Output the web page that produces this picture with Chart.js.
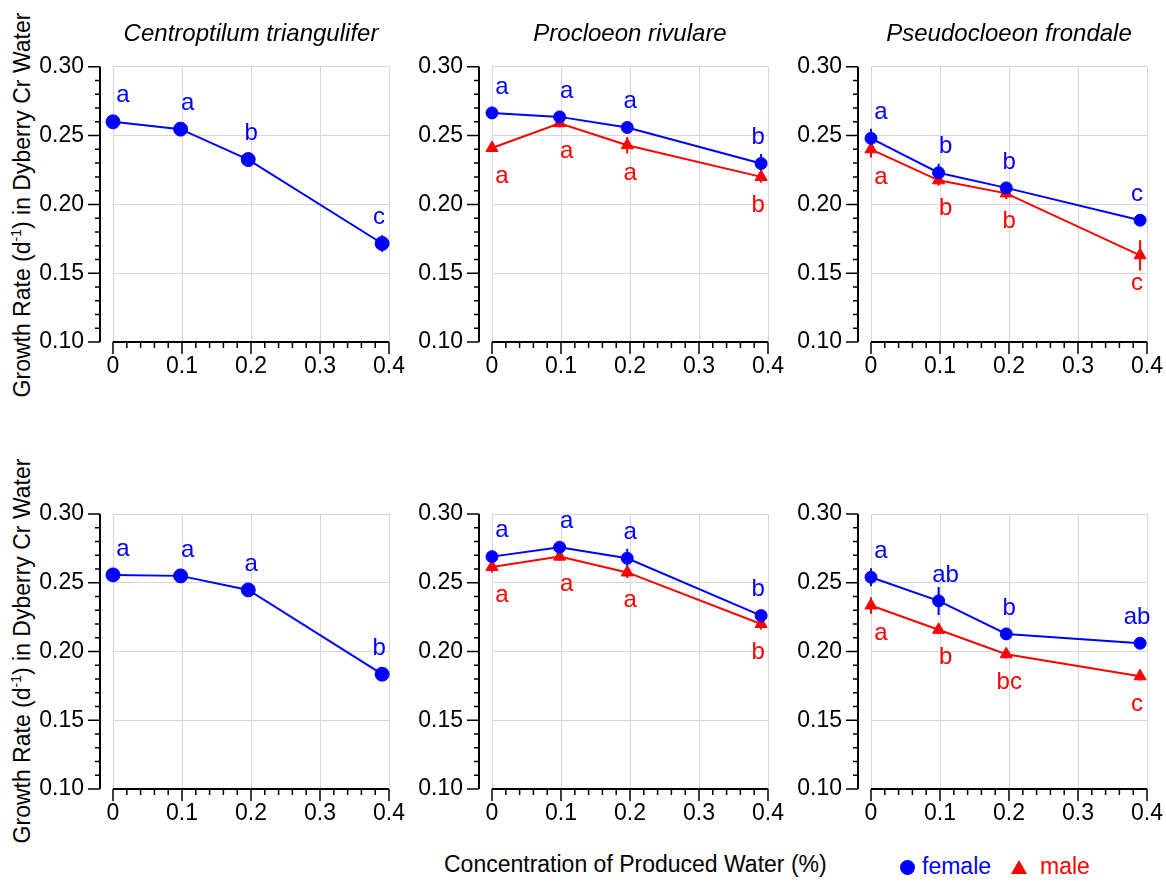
<!DOCTYPE html>
<html>
<head>
<meta charset="utf-8">
<script src="https://cdn.jsdelivr.net/npm/chart.js@4.4.1/dist/chart.umd.min.js"></script>
<style>
  html, body { margin: 0; padding: 0; background: #fff; overflow: hidden; }
  #wrap { position: relative; width: 1166px; height: 882px; overflow: hidden; font-family: 'Liberation Sans', Arial, Helvetica, sans-serif; }
  #wrap canvas { position: absolute; }
  .ytitle { position: absolute; left: 22px; font-size: 23px; line-height: 1; white-space: nowrap; color: #000;
            transform: translate(-50%, -50%) rotate(-90deg); }
  .ytitle sup { font-size: 14px; vertical-align: 9px; line-height: 0; }
  .txt { position: absolute; font-size: 23px; line-height: 1; white-space: nowrap; }
</style>
</head>
<body>
<div id="wrap">
  <div class="ytitle" style="top:205px">Growth Rate (d<sup>-1</sup>) in Dyberry Cr Water</div>
  <div class="ytitle" style="top:651px">Growth Rate (d<sup>-1</sup>) in Dyberry Cr Water</div>
  <div class="txt" style="left:444px; top:853px; color:#000">Concentration of Produced Water (%)</div>
  <div style="position:absolute; left:900px; top:860px; width:15px; height:15px; border-radius:50%; background:#0000ff"></div>
  <div class="txt" style="left:922px; top:855px; color:#0000ff">female</div>
  <div style="position:absolute; left:1011px; top:860px; width:0; height:0; border-left:8px solid transparent; border-right:8px solid transparent; border-bottom:14px solid #ff0000"></div>
  <div class="txt" style="left:1040px; top:855px; color:#ff0000">male</div>
</div>
<script>
// concentration of produced water (%), same for every panel
var conc = [0, 0.098, 0.196, 0.39];

var species = ['Centroptilum triangulifer', 'Procloeon rivulare', 'Pseudocloeon frondale'];

// --- top row ---
var ctFemale1 = [0.260, 0.2547, 0.2326, 0.1716];
var ctFemaleErr1 = [0.005, 0.003, 0.003, 0.006];
var ctFemaleLet1 = ['a', 'a', 'b', 'c'];

var prFemale1 = [0.2665, 0.2636, 0.2559, 0.2297];
var prFemaleErr1 = [0.004, 0.002, 0.003, 0.007];
var prFemaleLet1 = ['a', 'a', 'a', 'b'];
var prMale1 = [0.241, 0.259, 0.243, 0.220];
var prMaleErr1 = [0.003, 0.003, 0.006, 0.004];
var prMaleLet1 = ['a', 'a', 'a', 'b'];

var pfFemale1 = [0.248, 0.223, 0.212, 0.1885];
var pfFemaleErr1 = [0.007, 0.0065, 0.003, 0.003];
var pfFemaleLet1 = ['a', 'b', 'b', 'c'];
var pfMale1 = [0.240, 0.2175, 0.208, 0.163];
var pfMaleErr1 = [0.006, 0.004, 0.004, 0.011];
var pfMaleLet1 = ['a', 'b', 'b', 'c'];

// --- bottom row ---
var ctFemale2 = [0.2557, 0.255, 0.2448, 0.1835];
var ctFemaleErr2 = [0.003, 0.003, 0.003, 0.003];
var ctFemaleLet2 = ['a', 'a', 'a', 'b'];

var prFemale2 = [0.269, 0.2758, 0.2678, 0.2261];
var prFemaleErr2 = [0.003, 0.003, 0.007, 0.004];
var prFemaleLet2 = ['a', 'a', 'a', 'b'];
var prMale2 = [0.2615, 0.269, 0.2575, 0.220];
var prMaleErr2 = [0.004, 0.003, 0.004, 0.004];
var prMaleLet2 = ['a', 'a', 'a', 'b'];

var pfFemale2 = [0.254, 0.2368, 0.2128, 0.206];
var pfFemaleErr2 = [0.0065, 0.0102, 0.003, 0.003];
var pfFemaleLet2 = ['a', 'ab', 'b', 'ab'];
var pfMale2 = [0.2335, 0.2158, 0.198, 0.182];
var pfMaleErr2 = [0.006, 0.003, 0.003, 0.003];
var pfMaleLet2 = ['a', 'b', 'bc', 'c'];

var BLUE = '#0000ff', RED = '#ff0000';
var FONT = "'Liberation Sans', Arial, Helvetica, sans-serif";
var letterDx = [10, 7, 3, -3];

function female(vals, err, letters, r) {
  return { label: 'female', vals: vals, err: err, letters: letters, color: BLUE, style: 'circle', r: r, dy: -26 };
}
function male(vals, err, letters) {
  return { label: 'male', vals: vals, err: err, letters: letters, color: RED, style: 'triangle', r: 7, dy: 28 };
}

var panels = [
  { row: 0, col: 0, series: [female(ctFemale1, ctFemaleErr1, ctFemaleLet1, 7)] },
  { row: 0, col: 1, series: [female(prFemale1, prFemaleErr1, prFemaleLet1, 6), male(prMale1, prMaleErr1, prMaleLet1)] },
  { row: 0, col: 2, series: [female(pfFemale1, pfFemaleErr1, pfFemaleLet1, 6), male(pfMale1, pfMaleErr1, pfMaleLet1)] },
  { row: 1, col: 0, series: [female(ctFemale2, ctFemaleErr2, ctFemaleLet2, 7)] },
  { row: 1, col: 1, series: [female(prFemale2, prFemaleErr2, prFemaleLet2, 6), male(prMale2, prMaleErr2, prMaleLet2)] },
  { row: 1, col: 2, series: [female(pfFemale2, pfFemaleErr2, pfFemaleLet2, 6), male(pfMale2, pfMaleErr2, pfMaleLet2)] }
];

// axis lines offset from the plot, with major and minor ticks
var axesPlugin = {
  id: 'axes',
  beforeDatasetsDraw: function(chart) {
    var ctx = chart.ctx, a = chart.chartArea, x = chart.scales.x, y = chart.scales.y;
    var ax = a.left - 13;
    ctx.save();
    ctx.strokeStyle = '#000';
    ctx.lineWidth = 2;
    ctx.beginPath();
    ctx.moveTo(ax, y.getPixelForValue(0.3));
    ctx.lineTo(ax, y.getPixelForValue(0.1));
    ctx.moveTo(x.getPixelForValue(0), a.bottom);
    ctx.lineTo(x.getPixelForValue(0.4), a.bottom);
    ctx.stroke();
    ctx.lineWidth = 1.5;
    ctx.beginPath();
    for (var i = 0; i <= 20; i++) {
      var py = y.getPixelForValue(0.1 + i * 0.01);
      var len = i % 5 === 0 ? 12 : 5;
      ctx.moveTo(ax - len, py);
      ctx.lineTo(ax, py);
      var px = x.getPixelForValue(i * 0.02);
      var lx = i % 5 === 0 ? 12 : 6;
      ctx.moveTo(px, a.bottom);
      ctx.lineTo(px, a.bottom + lx);
    }
    ctx.stroke();
    // error bars
    chart.data.datasets.forEach(function(ds) {
      ctx.strokeStyle = ds.borderColor;
      ctx.lineWidth = 2;
      ctx.beginPath();
      ds.err.forEach(function(e, j) {
        var px = x.getPixelForValue(conc[j]);
        ctx.moveTo(px, y.getPixelForValue(ds.vals[j] + e));
        ctx.lineTo(px, y.getPixelForValue(ds.vals[j] - e));
      });
      ctx.stroke();
    });
    ctx.restore();
  },
  afterDatasetsDraw: function(chart) {
    var ctx = chart.ctx, x = chart.scales.x, y = chart.scales.y;
    ctx.save();
    ctx.font = '24px ' + FONT;
    ctx.textAlign = 'center';
    ctx.textBaseline = 'middle';
    chart.data.datasets.forEach(function(ds) {
      ctx.fillStyle = ds.borderColor;
      ds.letters.forEach(function(t, j) {
        ctx.fillText(t, x.getPixelForValue(conc[j]) + letterDx[j], y.getPixelForValue(ds.vals[j]) + ds.dy);
      });
    });
    ctx.restore();
  }
};

var wrap = document.getElementById('wrap');

panels.forEach(function(p, k) {
  var cv = document.createElement('canvas');
  cv.width = 420; cv.height = 402;
  cv.style.left = (p.col * 379) + 'px';
  cv.style.top = (p.row === 0 ? 0 : 447) + 'px';
  cv.style.width = '420px'; cv.style.height = '402px';
  wrap.appendChild(cv);

  var datasets = p.series.map(function(s) {
    return {
      label: s.label,
      data: s.vals.map(function(v, j) { return { x: conc[j], y: v }; }),
      vals: s.vals, err: s.err, letters: s.letters, dy: s.dy,
      showLine: true,
      borderColor: s.color,
      backgroundColor: s.color,
      borderWidth: 2,
      pointStyle: s.style,
      pointRadius: s.r,
      pointBorderWidth: 1,
      pointBorderColor: s.color,
      pointBackgroundColor: s.color,
      clip: false
    };
  });

  new Chart(cv, {
    type: 'scatter',
    data: { datasets: datasets },
    options: {
      responsive: false,
      animation: false,
      devicePixelRatio: 1,
      layout: { padding: { left: 0, right: 31, top: p.row === 0 ? 0 : 67, bottom: 0 } },
      plugins: {
        legend: { display: false },
        tooltip: { enabled: false },
        title: {
          display: p.row === 0,
          text: species[p.col],
          fullSize: false,
          color: '#000',
          font: { family: FONT, size: 24, style: 'italic', weight: 'normal' },
          padding: { top: 20, bottom: 18 }
        }
      },
      scales: {
        x: {
          type: 'linear', min: 0, max: 0.4,
          afterFit: function(s) { s.height = 60; },
          ticks: { stepSize: 0.1, color: '#000', padding: 11, font: { family: FONT, size: 23 } },
          grid: { color: '#d6d6d6', lineWidth: 1, drawTicks: false },
          border: { display: false }
        },
        y: {
          type: 'linear', min: 0.1, max: 0.3,
          afterFit: function(s) { s.width = 113; },
          ticks: { stepSize: 0.05, color: '#000', padding: 29, font: { family: FONT, size: 23 },
                   callback: function(v) { return v.toFixed(2); } },
          grid: { color: '#d6d6d6', lineWidth: 1, drawTicks: false },
          border: { display: false }
        }
      }
    },
    plugins: [axesPlugin]
  });
});
</script>
</body>
</html>
